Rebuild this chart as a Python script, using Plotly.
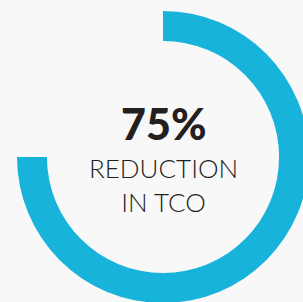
import plotly.graph_objects as go

labels = ["Reduction", "Remaining"]
values = [75, 25]
headline = "75%"
caption_lines = ["REDUCTION", "IN TCO"]

W, H = 320, 320
cx, cy, r = 163, 157, 146

fig = go.Figure(go.Pie(
    labels=labels,
    values=values,
    hole=0.795,
    sort=False,
    direction="clockwise",
    rotation=0,
    marker=dict(colors=["#18b3db", "rgba(0,0,0,0)"], line=dict(width=0)),
    textinfo="none",
    hoverinfo="skip",
    showlegend=False,
    domain=dict(x=[(cx - r) / W, (cx + r) / W], y=[1 - (cy + r) / H, 1 - (cy - r) / H]),
))

fig.add_annotation(x=cx / W, y=1 - 123 / H, xref="paper", yref="paper", text=headline,
                   showarrow=False, font=dict(family="Lato", size=43, color="#231f20", weight=900))
fig.add_annotation(x=cx / W, y=1 - 185 / H, xref="paper", yref="paper",
                   text="<br>".join(caption_lines), showarrow=False,
                   font=dict(family="Lato", size=26, color="#231f20", weight=300))

fig.update_layout(width=W, height=H, margin=dict(l=0, r=0, t=0, b=0),
                  paper_bgcolor="#f8f8f9", plot_bgcolor="#f8f8f9")
fig.write_html("out.html", config={"displayModeBar": False},
               post_script="document.body.style.margin='0';document.body.style.overflow='hidden';"
                           "document.documentElement.style.background='#f8f8f9';")
